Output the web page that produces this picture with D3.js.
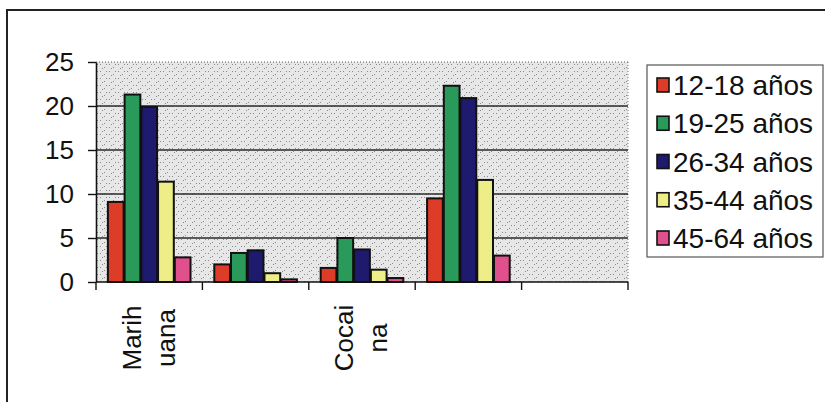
<!DOCTYPE html>
<html>
<head>
<meta charset="utf-8">
<script src="https://cdn.jsdelivr.net/npm/d3@7"></script>
<style>
  html, body { margin: 0; padding: 0; background: #fff; }
  svg { display: block; }
  text { font-family: "Liberation Sans", Arial, sans-serif; fill: #111; }
</style>
</head>
<body>
<svg id="chart" width="825" height="402"></svg>
<script>
// ---- data ----
const categories = ["Marih\nuana", "", "Cocai\nna", "", ""];
const series = ["12-18 años", "19-25 años", "26-34 años", "35-44 años", "45-64 años"];
const values1218 = [9.1, 2.0, 1.6, 9.5, null];
const values1925 = [21.3, 3.3, 5.0, 22.3, null];
const values2634 = [19.9, 3.6, 3.7, 20.9, null];
const values3544 = [11.4, 1.0, 1.4, 11.6, null];
const values4564 = [2.8, 0.3, 0.45, 3.0, null];
const yTicks = [0, 5, 10, 15, 20, 25];
const colors = ["#dc3c28", "#2a9a5a", "#1e1a6e", "#eeee88", "#e0508c"];

const seriesValues = [values1218, values1925, values2634, values3544, values4564];

// ---- layout ----
const svg = d3.select("#chart");
const plot = { left: 96, right: 628, top: 62, bottom: 282 };

// outer frame
svg.append("rect").attr("x", 7).attr("y", 10).attr("width", 830).attr("height", 410)
  .attr("fill", "none").attr("stroke", "#222").attr("stroke-width", 2);

// pattern for plot background
const defs = svg.append("defs");
const pat = defs.append("pattern").attr("id", "dots").attr("patternUnits", "userSpaceOnUse")
  .attr("width", 9).attr("height", 7);
pat.append("rect").attr("width", 9).attr("height", 7).attr("fill", "#e7e7e7");
[[1,1],[5,4],[7,1],[3,5]].forEach(([x,y]) => {
  pat.append("rect").attr("x", x).attr("y", y).attr("width", 1).attr("height", 1).attr("fill", "#8a8a8a");
});

const x0 = d3.scaleBand().domain(d3.range(categories.length)).range([plot.left, plot.right]).paddingInner(0).paddingOuter(0);
const x1 = d3.scaleBand().domain(d3.range(series.length)).range([0, x0.bandwidth()]).paddingInner(0).paddingOuter(0.68);
const y = d3.scaleLinear().domain([0, 25]).range([plot.bottom, plot.top]);

svg.append("rect").attr("x", plot.left).attr("y", plot.top)
  .attr("width", plot.right - plot.left).attr("height", plot.bottom - plot.top)
  .attr("fill", "url(#dots)");

// top/right dotted borders
svg.append("line").attr("x1", plot.left).attr("x2", plot.right).attr("y1", y(25)).attr("y2", y(25))
  .attr("stroke", "#555").attr("stroke-dasharray", "1,2");
svg.append("line").attr("x1", plot.right).attr("x2", plot.right).attr("y1", plot.top).attr("y2", plot.bottom)
  .attr("stroke", "#777").attr("stroke-dasharray", "1,2");

// gridlines
svg.append("g").selectAll("line").data(yTicks.filter(t => t > 0 && t < 25)).join("line")
  .attr("x1", plot.left).attr("x2", plot.right)
  .attr("y1", d => y(d)).attr("y2", d => y(d))
  .attr("stroke", "#2a2a2a").attr("stroke-width", 1.4);

// bars
const groups = svg.append("g").selectAll("g").data(d3.range(categories.length)).join("g")
  .attr("transform", i => `translate(${x0(i)},0)`);
groups.selectAll("rect")
  .data(i => seriesValues.map((vals, s) => ({ s, v: vals[i] })).filter(d => d.v != null))
  .join("rect")
  .attr("x", d => x1(d.s) + 0.5)
  .attr("width", x1.bandwidth() - 1)
  .attr("y", d => y(d.v))
  .attr("height", d => y(0) - y(d.v))
  .attr("fill", d => colors[d.s])
  .attr("stroke", "#111").attr("stroke-width", 2);

// y axis
const yAxis = d3.axisLeft(y).tickValues(yTicks).tickSize(8).tickPadding(14).tickSizeOuter(0);
const gy = svg.append("g").attr("transform", `translate(${plot.left},0)`).call(yAxis);
gy.select(".domain").attr("stroke", "#111").attr("stroke-width", 1.6);
gy.selectAll(".tick line").attr("stroke", "#111").attr("stroke-width", 1.4);
gy.selectAll(".tick text").style("font-size", "26px").attr("fill", "#111")
  .style("font-family", "'Liberation Sans', Arial, sans-serif");

// x axis (boundary ticks)
svg.append("line").attr("x1", plot.left).attr("x2", plot.right).attr("y1", plot.bottom).attr("y2", plot.bottom)
  .attr("stroke", "#111").attr("stroke-width", 1.6);
const bounds = d3.range(categories.length + 1).map(i => i < categories.length ? x0(i) : plot.right);
svg.append("g").selectAll("line").data(bounds).join("line")
  .attr("x1", d => d).attr("x2", d => d).attr("y1", plot.bottom).attr("y2", plot.bottom + 8)
  .attr("stroke", "#111").attr("stroke-width", 1.4);

// category labels (rotated, wrapped)
categories.forEach((c, i) => {
  if (!c) return;
  const lines = c.split("\n");
  const cx = x0(i) + x0.bandwidth() / 2;
  const lineGap = 34;
  lines.forEach((ln, k) => {
    const bx = cx + 9 + (k - (lines.length - 1) / 2) * lineGap;
    svg.append("text")
      .attr("transform", `translate(${bx},338) rotate(-90)`)
      .attr("text-anchor", "middle")
      .attr("dy", "-0.02em")
      .style("font-size", "26px")
      .text(ln);
  });
});

// legend
const lg = svg.append("g");
lg.append("rect").attr("x", 647).attr("y", 65).attr("width", 176).attr("height", 192)
  .attr("fill", "#fff").attr("stroke", "#555").attr("stroke-width", 1.2);
const ly = d3.scalePoint().domain(d3.range(series.length)).range([85, 238]);
series.forEach((s, i) => {
  lg.append("rect").attr("x", 657).attr("y", ly(i) - 7).attr("width", 12).attr("height", 14)
    .attr("fill", colors[i]).attr("stroke", "#111").attr("stroke-width", 1.6);
  lg.append("text").attr("x", 673).attr("y", ly(i)).attr("dy", "0.36em")
    .style("font-size", "28px").text(s);
});
</script>
</body>
</html>
